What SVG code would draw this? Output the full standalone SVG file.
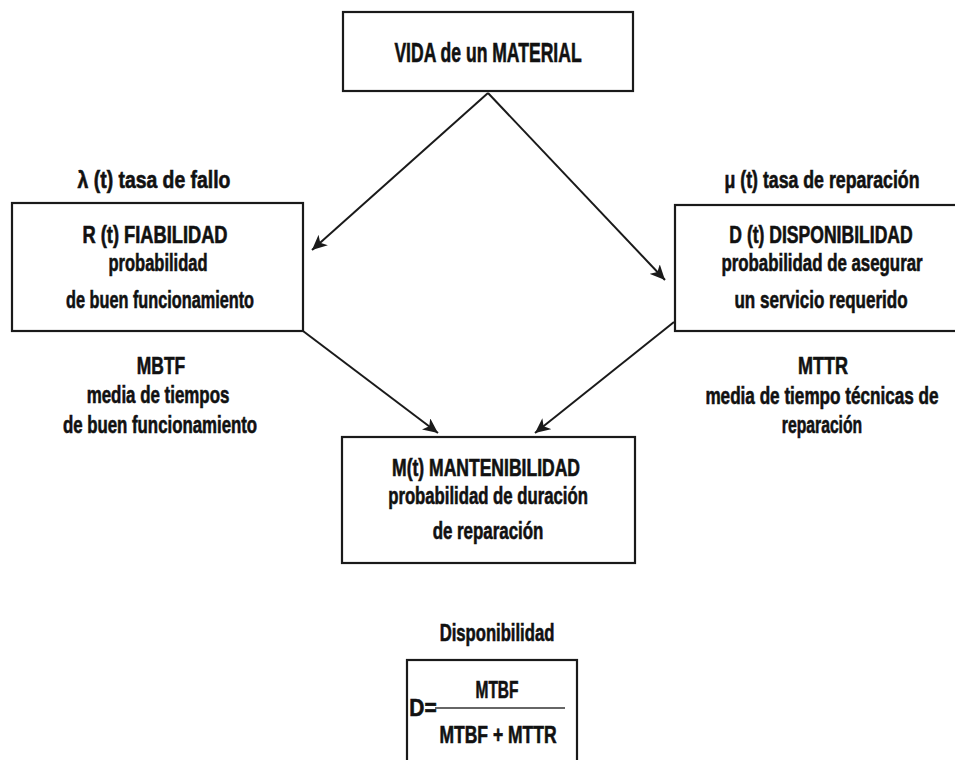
<svg xmlns="http://www.w3.org/2000/svg" width="955" height="760" viewBox="0 0 955 760">
  <style>
    .box { fill: #ffffff; stroke: #1a1a1a; stroke-width: 2.2; }
    .t { font-family: "Liberation Sans", Arial, sans-serif; font-weight: bold; font-size: 23px; fill: #111111; stroke: #111111; stroke-width: 0.6; text-anchor: middle; }
    .big { font-size: 27px; }
    .edge { stroke: #1a1a1a; stroke-width: 2; fill: none; marker-end: url(#arrow); }
  </style>
  <defs>
    <marker id="arrow" markerUnits="userSpaceOnUse" markerWidth="16" markerHeight="14" refX="15" refY="7" orient="auto">
      <path d="M0,0 L15,7 L0,14 L4,7 Z" fill="#1a1a1a"/>
    </marker>
  </defs>
  <rect width="955" height="760" fill="#ffffff"/>

  <!-- connectors -->
  <g id="connectors">
    <line class="edge" x1="488" y1="93" x2="312" y2="250"/>
    <line class="edge" x1="488" y1="93" x2="665" y2="280"/>
    <line class="edge" x1="303" y1="331" x2="438" y2="433"/>
    <line class="edge" x1="674" y1="322" x2="535" y2="433"/>
  </g>

  <!-- labels use a horizontally condensed bold face: translate to centre/baseline, then scale x -->

  <!-- top node -->
  <g id="vida">
    <rect class="box" x="343" y="12" width="290" height="79"/>
    <text class="t big" transform="translate(488,62) scale(0.78,1)" textLength="240" lengthAdjust="spacingAndGlyphs">VIDA de un  MATERIAL</text>
  </g>

  <!-- reliability node -->
  <g id="fiabilidad">
    <text class="t" transform="translate(154,188) scale(0.78,1)" textLength="196" lengthAdjust="spacingAndGlyphs">λ (t) tasa de fallo</text>
    <rect class="box" x="12" y="203" width="291" height="128"/>
    <text class="t" transform="translate(155,243) scale(0.78,1)" textLength="186" lengthAdjust="spacingAndGlyphs">R (t) FIABILIDAD</text>
    <text class="t" transform="translate(158,271) scale(0.78,1)" textLength="127" lengthAdjust="spacingAndGlyphs">probabilidad</text>
    <text class="t" transform="translate(160,308) scale(0.78,1)" textLength="241" lengthAdjust="spacingAndGlyphs">de buen funcionamiento</text>
  </g>

  <!-- MBTF note -->
  <g id="mbtf">
    <text class="t" transform="translate(161,374) scale(0.78,1)" textLength="62" lengthAdjust="spacingAndGlyphs">MBTF</text>
    <text class="t" transform="translate(158,403) scale(0.78,1)" textLength="183" lengthAdjust="spacingAndGlyphs">media de tiempos</text>
    <text class="t" transform="translate(160,433) scale(0.78,1)" textLength="249" lengthAdjust="spacingAndGlyphs">de buen funcionamiento</text>
  </g>

  <!-- availability node -->
  <g id="disponibilidad">
    <text class="t" transform="translate(822,188) scale(0.78,1)" textLength="250" lengthAdjust="spacingAndGlyphs">μ (t) tasa de reparación</text>
    <rect class="box" x="675" y="205" width="300" height="126"/>
    <text class="t" transform="translate(821,243) scale(0.78,1)" textLength="235" lengthAdjust="spacingAndGlyphs">D (t) DISPONIBILIDAD</text>
    <text class="t" transform="translate(822,271) scale(0.78,1)" textLength="258" lengthAdjust="spacingAndGlyphs">probabilidad de asegurar</text>
    <text class="t" transform="translate(821,308) scale(0.78,1)" textLength="222" lengthAdjust="spacingAndGlyphs">un servicio requerido</text>
  </g>

  <!-- MTTR note -->
  <g id="mttr">
    <text class="t" transform="translate(823,374) scale(0.78,1)" textLength="64" lengthAdjust="spacingAndGlyphs">MTTR</text>
    <text class="t" transform="translate(822,404) scale(0.78,1)" textLength="299" lengthAdjust="spacingAndGlyphs">media de tiempo técnicas de</text>
    <text class="t" transform="translate(822,433) scale(0.78,1)" textLength="103" lengthAdjust="spacingAndGlyphs">reparación</text>
  </g>

  <!-- maintainability node -->
  <g id="mantenibilidad">
    <rect class="box" x="342" y="437" width="293" height="126"/>
    <text class="t" transform="translate(486,476) scale(0.78,1)" textLength="241" lengthAdjust="spacingAndGlyphs">M(t) MANTENIBILIDAD</text>
    <text class="t" transform="translate(488,504) scale(0.78,1)" textLength="256" lengthAdjust="spacingAndGlyphs">probabilidad de duración</text>
    <text class="t" transform="translate(488,539) scale(0.78,1)" textLength="142" lengthAdjust="spacingAndGlyphs">de reparación</text>
  </g>

  <!-- availability formula -->
  <g id="formula">
    <text class="t" transform="translate(497,641) scale(0.78,1)" textLength="147" lengthAdjust="spacingAndGlyphs">Disponibilidad</text>
    <rect class="box" x="407" y="660" width="170" height="110"/>
    <text class="t" transform="translate(497,698) scale(0.78,1)" textLength="55" lengthAdjust="spacingAndGlyphs">MTBF</text>
    <text class="t" transform="translate(423,716) scale(0.78,1)" textLength="35" lengthAdjust="spacingAndGlyphs">D=</text>
    <line x1="435" y1="708" x2="565" y2="708" stroke="#333333" stroke-width="1.3"/>
    <text class="t" transform="translate(498,743) scale(0.78,1)" textLength="150" lengthAdjust="spacingAndGlyphs">MTBF + MTTR</text>
  </g>
</svg>
